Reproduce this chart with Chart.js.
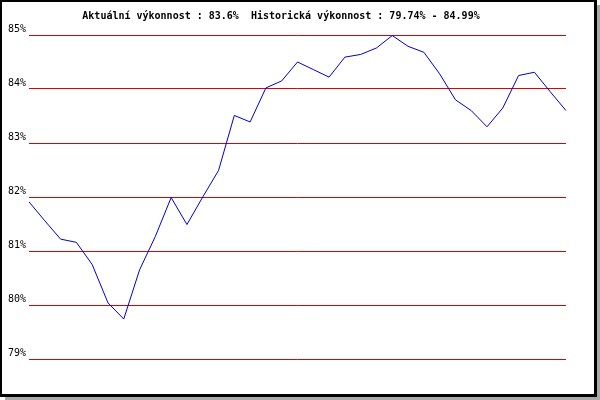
<!DOCTYPE html>
<html>
<head>
<meta charset="utf-8">
<script src="https://cdn.jsdelivr.net/npm/chart.js@4"></script>
<style>
html,body{margin:0;padding:0;background:#fff;}
canvas{display:block;}
</style>
</head>
<body>
<canvas id="c" width="600" height="400"></canvas>
<script>
const categories = ['1','2','3','4','5','6','7','8','9','10','11','12','13','14','15','16','17','18','19','20','21','22','23','24','25','26','27','28','29','30','31','32','33','34','35'];
const values = [81.91, 81.56, 81.22, 81.16, 80.75, 80.04, 79.74, 80.65, 81.27, 81.99, 81.49, 82.00, 82.49, 83.51, 83.39, 84.02, 84.15, 84.50, 84.36, 84.22, 84.59, 84.64, 84.76, 84.99, 84.79, 84.68, 84.28, 83.80, 83.60, 83.30, 83.65, 84.25, 84.31, 83.95, 83.60];
const tickValues = [79, 80, 81, 82, 83, 84, 85];
const tickLabels = ['79%', '80%', '81%', '82%', '83%', '84%', '85%'];
const currentPerf = '83.6%';
const histMin = '79.74%';
const histMax = '84.99%';
const titleText = 'Aktuální výkonnost : ' + currentPerf + '  Historická výkonnost : ' + histMin + ' - ' + histMax;

const frame = {
  id: 'frame',
  beforeDraw(chart) {
    const ctx = chart.ctx;
    ctx.save();
    ctx.fillStyle = '#aaaaaa';
    ctx.fillRect(5, 5, 595, 395);
    ctx.fillStyle = '#000000';
    ctx.fillRect(0, 0, 597, 397);
    ctx.fillStyle = '#ffffff';
    ctx.fillRect(2, 2, 592, 392);
    ctx.restore();
  }
};

const font = { family: 'DejaVu Sans Mono', size: 10, lineHeight: 1 };

new Chart(document.getElementById('c'), {
  type: 'line',
  data: {
    labels: categories,
    datasets: [{
      data: values,
      borderColor: '#0000cc',
      borderWidth: 1,
      pointRadius: 0,
      tension: 0,
      fill: false
    }]
  },
  options: {
    responsive: false,
    animation: false,
    devicePixelRatio: 1,
    layout: { padding: { left: -4, right: 34, top: 0, bottom: 41 } },
    plugins: {
      legend: { display: false },
      tooltip: { enabled: false },
      title: {
        display: true,
        text: titleText,
        color: '#000',
        font: font,
        padding: { top: 11, bottom: 14 }
      }
    },
    scales: {
      x: { type: 'category', display: false, offset: false },
      y: {
        min: 79,
        max: 85,
        afterFit(scale) { scale.width = 33; },
        afterBuildTicks(scale) { scale.ticks = tickValues.map(v => ({ value: v })); },
        ticks: {
          stepSize: 1,
          color: '#000',
          font: font,
          padding: 3,
          labelOffset: -6,
          callback: (v) => tickLabels[tickValues.indexOf(v)]
        },
        grid: { color: '#dd0000', lineWidth: 1, drawTicks: false },
        border: { display: false }
      }
    }
  },
  plugins: [frame]
});
</script>
</body>
</html>
